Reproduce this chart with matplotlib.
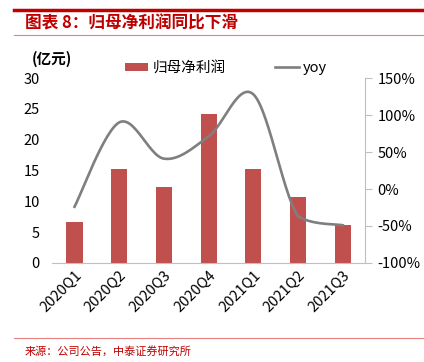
import numpy as np
import matplotlib
matplotlib.use("Agg")
from matplotlib import pyplot as plt

plt.rcParams['font.family'] = ['Noto Sans CJK SC', 'DejaVu Sans']

quarters = ['2020Q1', '2020Q2', '2020Q3', '2020Q4', '2021Q1', '2021Q2', '2021Q3']
profit = [6.7, 15.2, 12.3, 24.2, 15.2, 10.7, 6.1]
yoy = [-24, 90, 41, 71, 128, -37, -49]


def smooth(x, y, n=30):
    # Bezier through the points, like the smoothed line in Excel
    x = np.asarray(x, float)
    y = np.asarray(y, float)
    px = np.concatenate([[x[0]], x, [x[-1]]])
    py = np.concatenate([[y[0]], y, [y[-1]]])
    xs, ys = [], []
    t = np.linspace(0, 1, n)
    for i in range(1, len(px) - 2):
        p0, p1, p2, p3 = (np.array([px[j], py[j]]) for j in range(i - 1, i + 3))
        c1 = p1 + (p2 - p0) / 6
        c2 = p2 - (p3 - p1) / 6
        # keep the control points from running past the far end of the segment
        lo, hi = min(p1[1], p2[1]), max(p1[1], p2[1])
        if p2[1] < p1[1]:
            c1[1] = max(c1[1], lo)
            c2[1] = min(c2[1], hi)
        else:
            c1[1] = min(c1[1], hi)
            c2[1] = max(c2[1], lo)
        b = ((1 - t) ** 3)[:, None] * p1 + (3 * (1 - t) ** 2 * t)[:, None] * c1 \
            + (3 * (1 - t) * t ** 2)[:, None] * c2 + (t ** 3)[:, None] * p2
        xs.extend(b[:, 0])
        ys.extend(b[:, 1])
    return np.array(xs), np.array(ys)


red = '#C0504D'
gray = '#7F7F7F'
title_red = '#C00000'

fig = plt.figure(figsize=(4.24, 3.62), dpi=100)
ax = fig.add_axes([0.123, 0.2735, 0.738, 0.511])
ax2 = ax.twinx()

x = np.arange(len(quarters))
bars = ax.bar(x, profit, width=0.36, color=red, label='归母净利润', zorder=2)
sx, sy = smooth(x, yoy)
line, = ax2.plot(sx, sy, color=gray, lw=1.9, label='yoy', zorder=3)

ax.set_xlim(-0.5, 6.5)
ax.set_ylim(0, 30)
ax.set_yticks([0, 5, 10, 15, 20, 25, 30])
ax2.set_ylim(-100, 150)
ax2.set_yticks([-100, -50, 0, 50, 100, 150])
ax2.set_yticklabels(['%d%%' % v for v in [-100, -50, 0, 50, 100, 150]])

ax.set_zorder(ax2.get_zorder() - 1)
ax.patch.set_visible(True)
ax2.patch.set_visible(False)

for a in (ax, ax2):
    for s in ['top', 'left', 'right']:
        a.spines[s].set_visible(False)
    a.spines['bottom'].set_color('#BFBFBF')
ax2.spines['right'].set_visible(True)
ax2.spines['right'].set_color('#BFBFBF')
ax2.spines['bottom'].set_visible(False)

ax.tick_params(axis='y', length=0, labelsize=10.5, pad=9)
ax.tick_params(axis='x', length=0, labelsize=10.5, pad=4)
ax2.tick_params(axis='y', length=5, color='#BFBFBF', labelsize=10.5, pad=4)
ax.set_xticks(x)
ax.set_xticklabels(quarters, rotation=45, ha='right', rotation_mode='anchor')

fig.legend([bars, line], ['归母净利润', 'yoy'], loc='center left', ncol=2,
           bbox_to_anchor=(0.295, 0.812), frameon=False, fontsize=10.5,
           borderpad=0, borderaxespad=0,
           handlelength=1.6, handleheight=0.5, columnspacing=3.4, handletextpad=0.3)

fig.text(0.076, 0.837, '(亿元)', fontsize=10.5, fontweight='bold', ha='left', va='center')

# header and footer
fig.add_artist(plt.Line2D([0.033, 1.0], [0.972, 0.972], color=title_red, lw=2.5))
fig.text(0.058, 0.935, '图表 8：归母净利润同比下滑', color=title_red, fontsize=12,
         fontweight='bold', ha='left', va='center')
fig.add_artist(plt.Line2D([0.033, 1.0], [0.903, 0.903], color='#E88080', lw=0.8))
fig.add_artist(plt.Line2D([0.033, 1.0], [0.067, 0.067], color='#E88080', lw=0.8))
fig.text(0.058, 0.03, '来源：公司公告，中泰证券研究所', color=title_red, fontsize=8,
         ha='left', va='center')

fig.savefig('out.png', dpi=100)
